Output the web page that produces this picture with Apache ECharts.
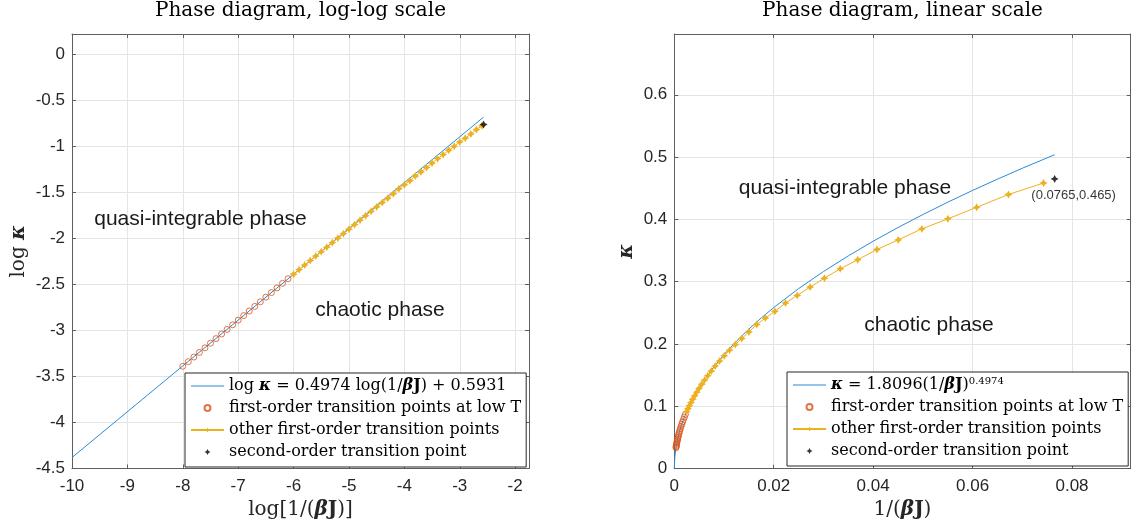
<!DOCTYPE html>
<html>
<head>
<meta charset="utf-8">
<script src="https://cdn.jsdelivr.net/npm/echarts@6/dist/echarts.min.js"></script>
<style>
html,body{margin:0;padding:0;background:#fff;}
#chart{width:1137px;height:528px;}
</style>
</head>
<body>
<div id="chart"></div>
<script>
// 数据 (自然对数): log(1/βJ) 与 log κ
// 低温一阶相变点
var lowT_logT = [-8.0, -7.9, -7.8, -7.7, -7.6, -7.5, -7.4, -7.3, -7.2, -7.1,
                 -7.0, -6.9, -6.8, -6.7, -6.6, -6.5, -6.4, -6.3, -6.2, -6.1];
var lowT_logK = [-3.39, -3.34, -3.29, -3.24, -3.19, -3.14, -3.09, -3.04, -2.99, -2.94,
                 -2.89, -2.84, -2.79, -2.74, -2.69, -2.64, -2.59, -2.54, -2.49, -2.44];
// 其他一阶相变点
var other_logT = [-6.0, -5.9, -5.8, -5.7, -5.6, -5.5, -5.4, -5.3, -5.2, -5.1,
                  -5.0, -4.9, -4.8, -4.7, -4.6, -4.5, -4.4, -4.3, -4.2, -4.1,
                  -4.0, -3.9, -3.8, -3.7, -3.6, -3.5, -3.4, -3.3, -3.2, -3.1,
                  -3.0, -2.9, -2.8, -2.7, -2.6];
var other_logK = [-2.391, -2.341, -2.292, -2.243, -2.194, -2.146, -2.097, -2.048, -1.999, -1.951,
                  -1.902, -1.853, -1.804, -1.756, -1.708, -1.660, -1.613, -1.566, -1.517, -1.464,
                  -1.420, -1.376, -1.325, -1.280, -1.233, -1.185, -1.137, -1.093, -1.045, -1.002,
                  -0.955, -0.914, -0.869, -0.821, -0.780];
// 二阶相变点
var second_T = [0.0765];
var second_K = [0.465];
// 拟合线 (对数图端点)
var fitLog_logT = [-10, -2.5705];
var fitLog_logK = [-4.381, -0.6855];
// 拟合线 (线性图)
var fitLin_T = [0, 0.0001, 0.0003, 0.0005, 0.001, 0.0015, 0.002, 0.003, 0.004, 0.005, 0.0075, 0.01,
                0.0125, 0.015, 0.0175, 0.02, 0.025, 0.03, 0.035, 0.04, 0.045, 0.05, 0.055, 0.06, 0.065, 0.07, 0.0765];
var fitLin_K = [0, 0.0186, 0.0320, 0.0413, 0.0583, 0.0713, 0.0822, 0.1006, 0.1161, 0.1297, 0.1587, 0.1831,
                0.2046, 0.2241, 0.2419, 0.2586, 0.2889, 0.3163, 0.3415, 0.3650, 0.3870, 0.4078, 0.4276, 0.4465, 0.4646, 0.4821, 0.5038];
// 坐标轴范围
var logX = {min: -10, max: -1.75, interval: 1};
var logY = {min: -4.5, max: 0.217, interval: 0.5};
var linX = {min: 0, max: 0.0918, interval: 0.02};
var linY = {min: 0, max: 0.6975, interval: 0.1};

var names = {
	fitLog: 'log κ = 0.4974 log(1/βJ) + 0.5931',
	fitLin: 'κ = 1.8096(1/βJ)^0.4974',
	lowT: 'first-order transition points at low T',
	other: 'other first-order transition points',
	second: 'second-order transition point'
};

function zip(a, b, fa, fb){
	var r = [];
	for (var i = 0; i < a.length; i++) {
		r.push([fa ? fa(a[i]) : a[i], fb ? fb(b[i]) : b[i]]);
	}
	return r;
}

var serif = 'DejaVu Serif';
var sans = 'Liberation Sans';
var blue = '#2a8bd3', red = '#D95319', yellow = '#EDB120';
var star = 'path://M0,-10L3.5,-3.5L10,0L3.5,3.5L0,10L-3.5,3.5L-10,0L-3.5,-3.5Z';
var boxColor = '#5f5f5f';

var axisRich = {
	n: {fontFamily: serif, fontSize: 20, color: '#262626'},
	b: {fontFamily: serif, fontSize: 20, color: '#262626', fontWeight: 'bold', fontStyle: 'italic'},
	B: {fontFamily: serif, fontSize: 20, color: '#262626', fontWeight: 'bold'}
};

function xAxes(grid, r, nameRich){
	var base = {
		gridIndex: grid, type: 'value', min: r.min, max: r.max, interval: r.interval,
		axisLine: {show: true, onZero: false, lineStyle: {color: boxColor, width: 1}},
		axisTick: {show: true, inside: true, length: 4, lineStyle: {color: boxColor}}
	};
	return [
		Object.assign({}, base, {
			position: 'bottom',
			axisLabel: {show: true, showMaxLabel: false, margin: 9, color: '#262626', fontFamily: sans, fontSize: 17},
			splitLine: {show: true, lineStyle: {color: '#e4e4e4', width: 1}},
			name: nameRich, nameLocation: 'middle', nameGap: 31,
			nameTextStyle: {color: '#262626', fontFamily: serif, fontSize: 20, rich: axisRich}
		}),
		Object.assign({}, base, {position: 'top', axisLabel: {show: false}, splitLine: {show: false}})
	];
}
function yAxes(grid, r, nameRich, gap){
	var base = {
		gridIndex: grid, type: 'value', min: r.min, max: r.max, interval: r.interval,
		axisLine: {show: true, onZero: false, lineStyle: {color: boxColor, width: 1}},
		axisTick: {show: true, inside: true, length: 4, lineStyle: {color: boxColor}}
	};
	return [
		Object.assign({}, base, {
			position: 'left',
			axisLabel: {show: true, showMaxLabel: false, margin: 7, color: '#262626', fontFamily: sans, fontSize: 17},
			splitLine: {show: true, lineStyle: {color: '#e4e4e4', width: 1}},
			name: nameRich, nameLocation: 'middle', nameGap: gap,
			nameTextStyle: {color: '#262626', fontFamily: serif, fontSize: 20, rich: axisRich}
		}),
		Object.assign({}, base, {position: 'right', axisLabel: {show: false}, splitLine: {show: false}})
	];
}

var legendRich = {
	n: {fontFamily: serif, fontSize: 16, color: '#000'},
	b: {fontFamily: serif, fontSize: 16, color: '#000', fontWeight: 'bold', fontStyle: 'italic'},
	B: {fontFamily: serif, fontSize: 16, color: '#000', fontWeight: 'bold'},
	sup: {fontFamily: serif, fontSize: 10, color: '#000', verticalAlign: 'top', lineHeight: 11}
};
var legendText = {};
legendText[names.fitLog] = '{n|log }{b|κ}{n| = 0.4974 log(1/}{b|β}{B|J}{n|) + 0.5931}';
legendText[names.fitLin] = '{b|κ}{n| = 1.8096(1/}{b|β}{B|J}{n|)}{sup|0.4974}';
legendText[names.lowT] = '{n|' + names.lowT + '}';
legendText[names.other] = '{n|' + names.other + '}';
legendText[names.second] = '{n|' + names.second + '}';

function legend(left, top, fitName){
	return {
		orient: 'vertical', left: left, top: top,
		backgroundColor: '#fff', borderColor: '#262626', borderWidth: 1,
		padding: [4, 5, 6, 5], itemGap: 4, itemWidth: 33, itemHeight: 6,
		selectedMode: false,
		textStyle: {fontFamily: serif, fontSize: 16, color: '#000', lineHeight: 18, rich: legendRich},
		formatter: function(name){ return legendText[name]; },
		data: [
			{name: fitName, icon: 'path://M0,0L33,0L33,1L0,1Z'},
			{name: names.lowT},
			{name: names.other},
			{name: names.second}
		]
	};
}

function seriesFor(xi, yi, fitName, fitData, lowData, otherData, secondData, withLabel){
	return [
		{name: fitName, type: 'line', xAxisIndex: xi, yAxisIndex: yi, data: fitData,
			symbol: 'none', lineStyle: {color: blue, width: 1}, itemStyle: {color: blue}, z: 2},
		{name: names.lowT, type: 'scatter', xAxisIndex: xi, yAxisIndex: yi, data: lowData,
			symbol: 'circle', symbolSize: 6,
			itemStyle: {color: 'rgba(255,255,255,0)', borderColor: red, borderWidth: 1}, z: 3},
		{name: names.other, type: 'line', xAxisIndex: xi, yAxisIndex: yi, data: otherData,
			symbol: star, symbolSize: 8, showAllSymbol: true,
			lineStyle: {color: yellow, width: 1}, itemStyle: {color: yellow}, z: 4},
		{name: names.second, type: 'scatter', xAxisIndex: xi, yAxisIndex: yi, data: secondData,
			symbol: star, symbolSize: 8, itemStyle: {color: '#000'}, z: 5,
			label: {show: withLabel, position: 'bottom', offset: [19, 1], formatter: '(0.0765,0.465)',
				color: '#000', fontFamily: sans, fontSize: 13}}
	];
}

var chart = echarts.init(document.getElementById('chart'));

var logDataLow = zip(lowT_logT, lowT_logK);
var logDataOther = zip(other_logT, other_logK);
var logDataSecond = zip(second_T, second_K, Math.log, Math.log);
var linDataLow = zip(lowT_logT, lowT_logK, Math.exp, Math.exp);
var linDataOther = zip(other_logT, other_logK, Math.exp, Math.exp);
var linDataSecond = zip(second_T, second_K);

var phaseFont = '21px "Liberation Sans"';

var option = {
	animation: false,
	backgroundColor: '#fff',
	title: [
		{text: 'Phase diagram, log-log scale', left: 300.5, top: 1, textAlign: 'center', padding: 0,
			textStyle: {fontFamily: serif, fontSize: 20, fontWeight: 'normal', color: '#000'}},
		{text: 'Phase diagram, linear scale', left: 902.5, top: 1, textAlign: 'center', padding: 0,
			textStyle: {fontFamily: serif, fontSize: 20, fontWeight: 'normal', color: '#000'}}
	],
	grid: [
		{left: 72, top: 34, width: 457, height: 434.5},
		{left: 674.3, top: 34, width: 456.4, height: 434.7}
	],
	xAxis: [].concat(
		xAxes(0, logX, '{n|log[1/(}{b|β}{B|J}{n|)]}'),
		xAxes(1, linX, '{n|1/(}{b|β}{B|J}{n|)}')
	),
	yAxis: [].concat(
		yAxes(0, logY, '{n|log }{b|κ}', 43),
		yAxes(1, linY, '{b|κ}', 38)
	),
	legend: [
		legend(185, 373, names.fitLog),
		legend(787, 372, names.fitLin)
	],
	series: [].concat(
		seriesFor(0, 0, names.fitLog, zip(fitLog_logT, fitLog_logK), logDataLow, logDataOther, logDataSecond, false),
		seriesFor(2, 2, names.fitLin, zip(fitLin_T, fitLin_K), linDataLow, linDataOther, linDataSecond, true)
	),
	graphic: [
		{type: 'text', z: 100, style: {text: 'quasi-integrable phase', x: 200.5, y: 219, align: 'center', verticalAlign: 'middle',
			font: phaseFont, fill: '#1a1a1a'}},
		{type: 'text', z: 100, style: {text: 'chaotic phase', x: 380, y: 310, align: 'center', verticalAlign: 'middle',
			font: phaseFont, fill: '#1a1a1a'}},
		{type: 'text', z: 100, style: {text: 'quasi-integrable phase', x: 845, y: 188, align: 'center', verticalAlign: 'middle',
			font: phaseFont, fill: '#1a1a1a'}},
		{type: 'text', z: 100, style: {text: 'chaotic phase', x: 929, y: 325, align: 'center', verticalAlign: 'middle',
			font: phaseFont, fill: '#1a1a1a'}}
	]
};
chart.setOption(option);
</script>
</body>
</html>
